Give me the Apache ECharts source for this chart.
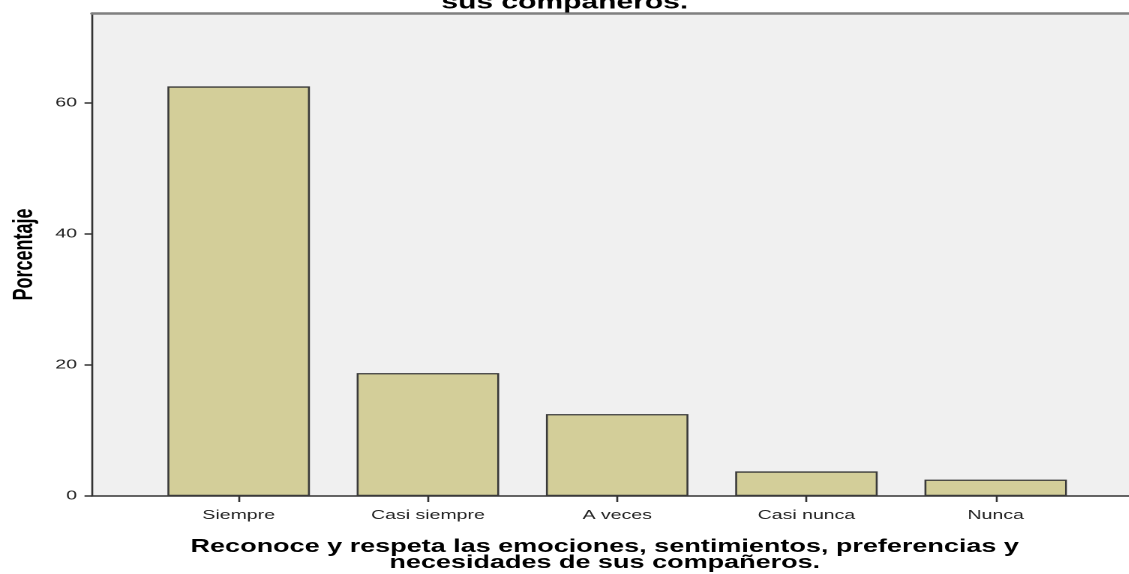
<!DOCTYPE html>
<html>
<head>
<meta charset="utf-8">
<script src="https://cdn.jsdelivr.net/npm/echarts@6/dist/echarts.min.js"></script>
<style>
  html, body { margin: 0; padding: 0; background: #fff; overflow: hidden; }
  /* el grafico original esta estirado en horizontal (x1.5) */
  #chart { width: 752.67px; height: 574px; transform: scaleX(1.5); transform-origin: 0 0; }
</style>
</head>
<body>
<div id="chart"></div>
<script>
    // categorias y porcentajes (n = 80)
    const categorias = ['Siempre', 'Casi siempre', 'A veces', 'Casi nunca', 'Nunca'];
    const porcentajes = [62.5, 18.75, 12.5, 3.75, 2.5];
    const yTicks = [0, 20, 40, 60];

    const tituloX = 'Reconoce y respeta las emociones, sentimientos, preferencias y\nnecesidades de sus compañeros.';
    const tituloY = 'Porcentaje';
    const titulo = 'sus compañeros.';

    const xPos = categorias.map(function(c, i) { return i; });
    const data = porcentajes.map(function(v, i) { return [i, v]; });

    let myChart = echarts.init(document.getElementById('chart'), null, { devicePixelRatio: 2 });

    let option = {
        animation: false,
        title: {
            text: titulo,
            left: 'center',
            top: -12,
            textStyle: {
                fontFamily: 'Liberation Sans, Arial',
                fontWeight: 'bold',
                fontSize: 20,
                color: '#000'
            }
        },
        grid: {
            left: 61.33,
            right: 0,
            top: 13,
            bottom: 78,
            outerBoundsMode: 'none',
            containLabel: false,
            show: true,
            backgroundColor: '#f0f0f0',
            borderWidth: 0
        },
        xAxis: [
            {
                type: 'value',
                min: -0.775,
                max: 4.707,
                splitLine: { show: false },
                axisLine: { lineStyle: { color: '#333', width: 1.5 } },
                axisTick: {
                    show: true,
                    customValues: xPos,
                    length: 6,
                    lineStyle: { color: '#333', width: 1.3 }
                },
                axisLabel: {
                    customValues: xPos,
                    formatter: function(v) { return categorias[Math.round(v)]; },
                    color: '#222',
                    fontFamily: 'Liberation Sans, Arial',
                    fontSize: 13,
                    margin: 13
                },
                name: tituloX,
                nameLocation: 'middle',
                nameGap: 43,
                nameTextStyle: {
                    fontFamily: 'Liberation Sans, Arial',
                    fontWeight: 'bold',
                    fontSize: 18,
                    lineHeight: 16,
                    padding: [0, 8, 0, 0],
                    color: '#000'
                }
            },
            {
                type: 'value',
                position: 'top',
                min: -0.775,
                max: 4.707,
                splitLine: { show: false },
                axisLine: { show: true, lineStyle: { color: '#808080', width: 2.5 } },
                axisTick: { show: false },
                axisLabel: { show: false }
            }
        ],
        yAxis: {
            type: 'value',
            min: 0,
            max: 73.7,
            splitLine: { show: false },
            axisLine: { show: true, onZero: false, lineStyle: { color: '#333', width: 1.3 } },
            axisTick: {
                show: true,
                customValues: yTicks,
                length: 5,
                lineStyle: { color: '#333', width: 1.5 }
            },
            axisLabel: {
                customValues: yTicks,
                color: '#222',
                fontFamily: 'Liberation Sans, Arial',
                fontSize: 13,
                margin: 10
            },
            name: tituloY,
            nameLocation: 'middle',
            nameRotate: 90,
            nameGap: 36,
            nameTextStyle: {
                fontFamily: 'Liberation Sans, Arial',
                fontWeight: 'bold',
                fontSize: 18,
                color: '#000'
            }
        },
        series: [
            {
                name: 'Porcentaje',
                type: 'bar',
                xAxisIndex: 0,
                barWidth: 95,
                itemStyle: {
                    color: '#d3ce99',
                    borderColor: '#3a3a3a',
                    borderWidth: 1.3
                },
                data: data
            }
        ]
    };

    myChart.setOption(option, true);
</script>
</body>
</html>
